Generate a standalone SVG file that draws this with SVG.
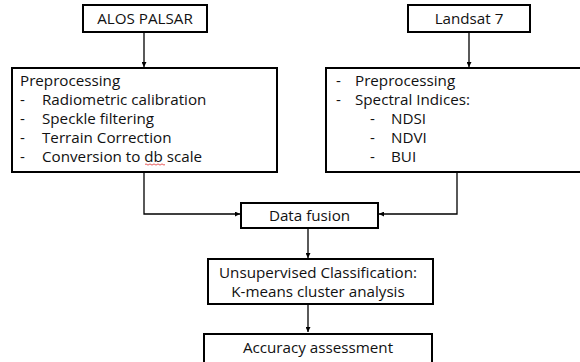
<svg xmlns="http://www.w3.org/2000/svg" width="580" height="362" viewBox="0 0 580 362">
<style>
.box{fill:#fff;stroke:#000;stroke-width:2}
.t{font-family:"Open Sans","Noto Sans",sans-serif;font-size:15.2px;fill:#111}
.c{text-anchor:middle}
.ln{fill:none;stroke:#000;stroke-width:1.3}
</style>
<defs>
<marker id="ah" viewBox="0 0 6 6" refX="6" refY="3" markerWidth="5" markerHeight="5" markerUnits="userSpaceOnUse" orient="auto">
<path d="M0,0 L6,3 L0,6 Z" fill="#000"/>
</marker>
</defs>
<rect width="580" height="362" fill="#fff"/>
<g id="connectors">
<line class="ln" x1="144" y1="32" x2="144" y2="67" marker-end="url(#ah)"/>
<line class="ln" x1="469" y1="32" x2="469" y2="67" marker-end="url(#ah)"/>
<polyline class="ln" points="144,172 144,214 240,214" marker-end="url(#ah)"/>
<polyline class="ln" points="457,172 457,214 379,214" marker-end="url(#ah)"/>
<line class="ln" x1="308" y1="228" x2="308" y2="258" marker-end="url(#ah)"/>
<line class="ln" x1="308" y1="304" x2="308" y2="332" marker-end="url(#ah)"/>
</g>
<g id="alos">
<rect class="box" x="83" y="5" width="124" height="27"/>
<text class="t c" x="145" y="24">ALOS PALSAR</text>
</g>
<g id="landsat">
<rect class="box" x="408" y="5" width="122" height="27"/>
<text class="t c" x="469" y="24">Landsat 7</text>
</g>
<g id="sar-preprocessing">
<rect class="box" x="12" y="68" width="265" height="104"/>
<text class="t" x="20" y="86">Preprocessing</text>
<text class="t" x="20" y="104.5">-</text><text class="t" x="42" y="104.5">Radiometric calibration</text>
<text class="t" x="20" y="123.5">-</text><text class="t" x="42" y="123.5">Speckle filtering</text>
<text class="t" x="20" y="142.5">-</text><text class="t" x="42" y="142.5">Terrain Correction</text>
<text class="t" x="20" y="162">-</text><text class="t" x="42" y="162">Conversion to db scale</text>
<path d="M145,164.5 q1,-1.2 2,0 t2,0 t2,0 t2,0 t2,0 t2,0 t2,0 t2,0 t2,0 t2,0" fill="none" stroke="#e03030" stroke-width="0.8"/>
</g>
<g id="landsat-preprocessing">
<rect class="box" x="326" y="68" width="260" height="104"/>
<text class="t" x="336" y="86">-</text><text class="t" x="355" y="86">Preprocessing</text>
<text class="t" x="336" y="105">-</text><text class="t" x="355" y="105">Spectral Indices:</text>
<text class="t" x="370" y="124">-</text><text class="t" x="391" y="124">NDSI</text>
<text class="t" x="370" y="143">-</text><text class="t" x="391" y="143">NDVI</text>
<text class="t" x="370" y="162">-</text><text class="t" x="391" y="162">BUI</text>
</g>
<g id="data-fusion">
<rect class="box" x="241" y="203" width="137" height="25"/>
<text class="t c" x="309.5" y="220.5">Data fusion</text>
</g>
<g id="classification">
<rect class="box" x="208" y="259" width="225" height="45"/>
<text class="t c" x="318" y="278">Unsupervised Classification:</text>
<text class="t c" x="318" y="297">K-means cluster analysis</text>
</g>
<g id="accuracy">
<rect class="box" x="204" y="334" width="228" height="32"/>
<text class="t c" x="318" y="353">Accuracy assessment</text>
</g>
</svg>
